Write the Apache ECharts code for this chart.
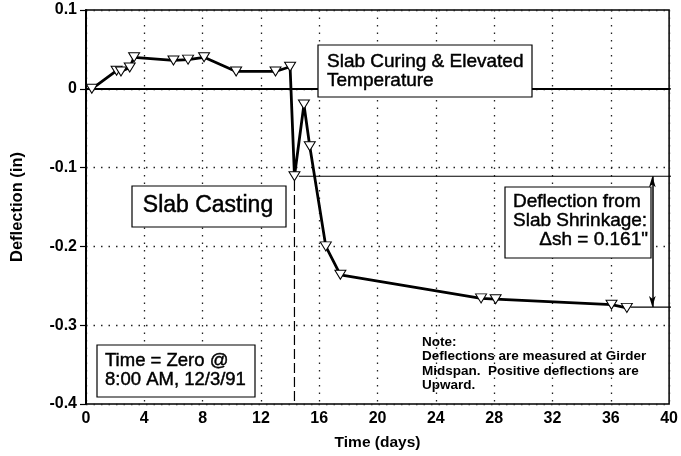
<!DOCTYPE html>
<html>
<head>
<meta charset="utf-8">
<script src="https://cdn.jsdelivr.net/npm/echarts@6/dist/echarts.min.js"></script>
<style>html,body{margin:0;padding:0;background:#fff;}#c{width:681px;height:456px;}</style>
</head>
<body>
<div id="c"></div>
<script>
// Measured deflection at girder midspan
const days = [0.4, 2.1, 2.4, 3.0, 3.3, 6.0, 7.0, 8.1, 10.3, 13.0, 14.0, 14.3, 14.95, 15.35, 16.45, 17.45, 27.1, 28.1, 36.05, 37.1];
const deflection = [0.0, 0.023, 0.022, 0.027, 0.040, 0.036, 0.037, 0.040, 0.022, 0.022, 0.028, -0.111, -0.020, -0.073, -0.200, -0.236, -0.266, -0.267, -0.274, -0.278];
const xTicks = [0, 4, 8, 12, 16, 20, 24, 28, 32, 36, 40];
const yTicks = [-0.4, -0.3, -0.2, -0.1, 0, 0.1];
// reference lines (data units)
const zeroLine = [[0, 0], [40.6, 0]];
const castingLine = [[14.3, -0.117], [14.3, -0.4]];
const upperShrinkLine = [[14.6, -0.111], [40.6, -0.111]];
const lowerShrinkLine = [[37.35, -0.277], [40.6, -0.277]];
const shrinkArrowX = 38.85;
const shrinkTop = -0.111, shrinkBottom = -0.277;

const chart = echarts.init(document.getElementById('c'), null, {renderer: 'canvas'});
const F = '"Liberation Sans", Arial, Helvetica, sans-serif';
const dotted = {color: '#222', width: 1.3, type: [1.5, 6]};

function refSeries(data, style) {
  return {type: 'line', data: data, showSymbol: false, symbol: 'none', clip: false,
    lineStyle: style, silent: true, z: 1, animation: false};
}
function txt(x, y, text, size, extra) {
  return Object.assign({type: 'text', x: x, y: y, z: 11,
    style: Object.assign({text: text, font: size + 'px ' + F, fill: '#000', stroke: '#000', lineWidth: 0.45,
      lineHeight: 19, verticalAlign: 'top'}, extra || {})});
}

const option = {
  animation: false,
  backgroundColor: '#fff',
  grid: {left: 86, right: 9, top: 10, bottom: 51, show: true, borderColor: '#000', borderWidth: 1.5, backgroundColor: 'transparent'},
  xAxis: {
    type: 'value', min: xTicks[0], max: xTicks[xTicks.length - 1], interval: 4,
    name: 'Time (days)', nameLocation: 'middle', nameGap: 31,
    nameTextStyle: {fontFamily: F, fontSize: 15.5, fontWeight: 'bold', color: '#000'},
    axisLine: {lineStyle: {color: '#000', width: 2}},
    axisTick: {show: false},
    axisLabel: {fontFamily: F, fontSize: 16, fontWeight: 'bold', color: '#000', margin: 7},
    splitLine: {show: true, lineStyle: dotted}
  },
  yAxis: {
    type: 'value', min: yTicks[0], max: yTicks[yTicks.length - 1], interval: 0.1,
    name: 'Deflection (in)', nameLocation: 'middle', nameGap: 60, nameRotate: 90,
    nameTextStyle: {fontFamily: F, fontSize: 16.5, fontWeight: 'bold', color: '#000'},
    axisLine: {lineStyle: {color: '#000', width: 2}},
    axisTick: {show: true, inside: false, length: 6, lineStyle: {color: '#000', width: 1.2}},
    axisLabel: {fontFamily: F, fontSize: 16, fontWeight: 'bold', color: '#000', margin: 9,
      formatter: v => String(Math.round(v * 10) / 10)},
    splitLine: {show: true, lineStyle: dotted}
  },
  series: [
    refSeries(zeroLine, {color: '#000', width: 1.2}),
    refSeries(castingLine, {color: '#000', width: 1.2, type: [10, 4]}),
    refSeries(upperShrinkLine, {color: '#000', width: 1.2}),
    refSeries(lowerShrinkLine, {color: '#000', width: 1.2}),
    {
      type: 'line', data: [[shrinkArrowX, shrinkTop], [shrinkArrowX, shrinkBottom]],
      symbol: 'none', showSymbol: false, lineStyle: {width: 0, opacity: 0}, silent: true, z: 2,
      markLine: {
        silent: true, symbol: ['arrow', 'arrow'], symbolSize: [5, 11], label: {show: false},
        lineStyle: {color: '#000', width: 1.5, type: 'solid'},
        data: [[{coord: [shrinkArrowX, shrinkTop]}, {coord: [shrinkArrowX, shrinkBottom]}]]
      }
    },
    {
      type: 'line', data: days.map((d, i) => [d, deflection[i]]),
      symbol: 'triangle', symbolRotate: 180, symbolSize: [11, 9], showAllSymbol: true,
      itemStyle: {color: '#fff', borderColor: '#000', borderWidth: 1},
      lineStyle: {color: '#000', width: 2.8}, z: 5
    }
  ],
  graphic: [
    // Slab curing box
    {type: 'rect', shape: {x: 318, y: 45, width: 214, height: 52}, style: {fill: '#fff', stroke: '#000', lineWidth: 1.2}, z: 10},
    txt(327, 52, 'Slab Curing & Elevated\nTemperature', 19),
    // Slab casting box
    {type: 'rect', shape: {x: 132, y: 186, width: 154, height: 41}, style: {fill: '#fff', stroke: '#000', lineWidth: 1.2}, z: 10},
    txt(208, 206, 'Slab Casting', 23, {align: 'center', verticalAlign: 'middle'}),
    // Shrinkage box
    {type: 'rect', shape: {x: 505, y: 187, width: 146, height: 71}, style: {fill: '#fff', stroke: '#000', lineWidth: 1.2}, z: 10},
    txt(513, 192.5, 'Deflection from\nSlab Shrinkage:', 19),
    txt(648, 240, 'Δsh = 0.161"', 19, {align: 'right', verticalAlign: 'middle'}),
    // Time zero box
    {type: 'rect', shape: {x: 97, y: 345, width: 158, height: 52}, style: {fill: '#fff', stroke: '#000', lineWidth: 1.2}, z: 10},
    txt(105, 351.5, 'Time = Zero @\n8:00 AM, 12/3/91', 18.5),
    // Note
    {type: 'text', x: 422, y: 335, z: 11, style: {text: 'Note:\nDeflections are measured at Girder\nMidspan.  Positive deflections are\nUpward.', font: 'bold 13.5px ' + F, fill: '#000', lineHeight: 14.5, verticalAlign: 'top'}}
  ]
};
chart.setOption(option);
</script>
</body>
</html>
